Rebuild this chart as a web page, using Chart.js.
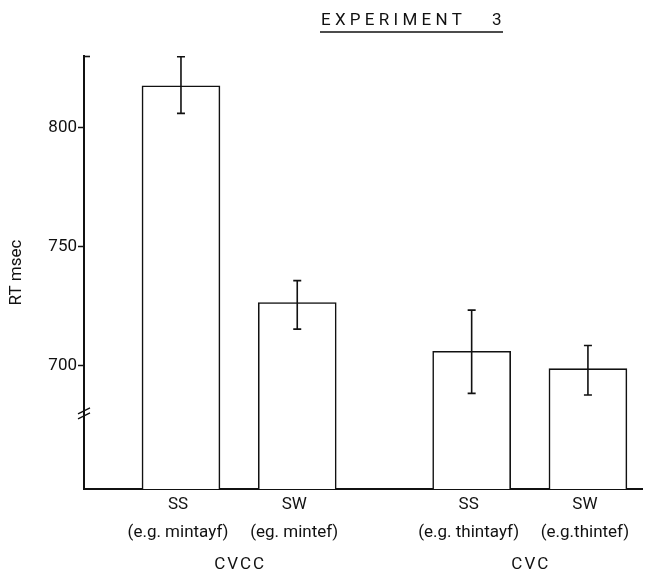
<!DOCTYPE html>
<html>
<head>
<meta charset="utf-8">
<script src="https://cdn.jsdelivr.net/npm/chart.js@4.4.1/dist/chart.umd.min.js"></script>
<style>
html,body{margin:0;padding:0;background:#fff}
#wrap{width:651px;height:579px}
</style>
</head>
<body>
<div id="wrap"><canvas id="c" width="651" height="579"></canvas></div>
<script>
// values
const conditions = ["SS", "SW", "SS", "SW"];
const examples = ["(e.g. mintayf)", "(eg. mintef)", "(e.g. thintayf)", "(e.g.thintef)"];
const groups = ["CVCC", "CVC"];
const slots = [1, 3, 6, 8];          // bar positions on the x scale
const groupSlots = [2, 7];
const rt = [817.5, 726.4, 705.9, 698.6];
const errLo = [805.9, 715.2, 688.2, 687.5];
const errHi = [829.7, 735.6, 723.2, 708.3];
const yTicks = [700, 750, 800];
const yBreak = 680;

const INK = "#111";
const FONT = "Roboto, 'DejaVu Sans', sans-serif";

const decor = {
  id: "decor",
  afterDraw(chart){
    const ctx = chart.ctx, xs = chart.scales.x, ys = chart.scales.y;
    const bars = chart.getDatasetMeta(0).data;
    ctx.save();
    ctx.strokeStyle = INK; ctx.fillStyle = INK;

    // error bars
    ctx.lineWidth = 1.6;
    bars.forEach((b, i)=>{
      const x = b.x, y1 = ys.getPixelForValue(errHi[i]), y2 = ys.getPixelForValue(errLo[i]);
      ctx.beginPath();
      ctx.moveTo(x, y1); ctx.lineTo(x, y2);
      ctx.moveTo(x-4, y1); ctx.lineTo(x+4, y1);
      ctx.moveTo(x-4, y2); ctx.lineTo(x+4, y2);
      ctx.stroke();
    });

    // small stub at the top of the y axis
    ctx.beginPath();
    ctx.moveTo(xs.left, ys.top+0.5); ctx.lineTo(xs.left+6, ys.top+0.5);
    ctx.stroke();

    // axis break "//"
    const yb = ys.getPixelForValue(yBreak);
    ctx.lineWidth = 1.3;
    ctx.beginPath();
    ctx.moveTo(xs.left-6, yb+1); ctx.lineTo(xs.left+6, yb-5);
    ctx.moveTo(xs.left-6, yb+6); ctx.lineTo(xs.left+6, yb);
    ctx.stroke();

    // category labels under the bars
    ctx.textAlign = "center"; ctx.textBaseline = "middle";
    ctx.font = "17px " + FONT;
    conditions.forEach((t, i)=>{
      const x = xs.getPixelForValue(slots[i]) - 3;
      ctx.fillText(t, x, 505);
      ctx.fillText(examples[i], x, 533);
    });
    ctx.letterSpacing = "2px";
    groups.forEach((t, i)=>{
      ctx.fillText(t, xs.getPixelForValue(groupSlots[i]) + 1, 565);
    });

    // title, spaced out and underlined
    ctx.letterSpacing = "0px";
    ctx.textAlign = "left"; ctx.textBaseline = "alphabetic";
    ctx.font = "17px " + FONT;
    const word = "EXPERIMENT", x0 = 321, x1 = 462;
    let w = 0;
    for (const ch of word) w += ctx.measureText(ch).width;
    const gap = (x1 - x0 - w) / (word.length - 1);
    let x = x0;
    for (const ch of word){ ctx.fillText(ch, x, 25); x += ctx.measureText(ch).width + gap; }
    ctx.fillText("3", 492, 25);
    ctx.lineWidth = 1.6;
    ctx.beginPath(); ctx.moveTo(320, 32); ctx.lineTo(503, 32); ctx.stroke();

    ctx.restore();
  }
};

new Chart(document.getElementById("c"), {
  type: "bar",
  data: {
    datasets: [{
      data: rt.map((v, i)=>({x: slots[i], y: v})),
      backgroundColor: "#fff",
      borderColor: INK,
      borderWidth: 1.6,
      barThickness: 78
    }]
  },
  options: {
    responsive: false,
    animation: false,
    layout: {padding: {top: 56, right: 9, left: 0, bottom: 0}},
    plugins: {legend: {display: false}, tooltip: {enabled: false}},
    scales: {
      x: {
        type: "linear", offset: false, min: -0.668, max: 8.93,
        grid: {display: false}, ticks: {display: false},
        border: {color: INK, width: 2},
        afterFit: s=>{ s.height = 90; }
      },
      y: {
        min: 648, max: 830,
        afterBuildTicks: s=>{ s.ticks = yTicks.map(v=>({value: v})); },
        grid: {drawOnChartArea: false, tickLength: 6, color: INK, tickWidth: 1.5},
        border: {color: INK, width: 2},
        ticks: {padding: 1, color: INK, font: {family: FONT, size: 17}},
        title: {display: true, text: "RT msec", color: INK, padding: {top: 7, bottom: 0}, font: {family: FONT, size: 17}},
        afterFit: s=>{ s.width = 84; }
      }
    }
  },
  plugins: [decor]
});
</script>
</body>
</html>
